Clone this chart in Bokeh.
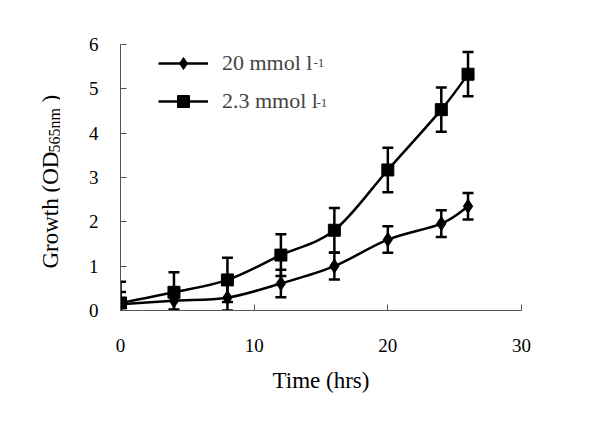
import numpy as np
from bokeh.plotting import figure
from bokeh.layouts import row
from bokeh.models import (ColumnDataSource, Whisker, TeeHead, Legend, LegendItem,
                          FixedTicker, Label, Range1d)
from bokeh.core.properties import value
from bokeh.embed import file_html
from bokeh.resources import INLINE

# ---- data ----
time_hrs = [0, 4, 8, 12, 16, 20, 24, 26]
growth_20 = [0.14, 0.22, 0.29, 0.61, 1.00, 1.60, 1.96, 2.35]
err_20 = [0.28, 0.20, 0.29, 0.31, 0.30, 0.30, 0.30, 0.30]
growth_23 = [0.17, 0.41, 0.69, 1.25, 1.81, 3.17, 4.53, 5.33]
err_23 = [0.48, 0.45, 0.50, 0.47, 0.50, 0.50, 0.50, 0.50]
x_ticks = [0, 10, 20, 30]
y_ticks = [0, 1, 2, 3, 4, 5, 6]
series_labels = ["20 mmol l", "2.3 mmol l"]
ylabel_parts = ["Growth (OD", "565nm", ")"]

FONT = "Liberation Serif"
AXIS_COLOR = "#555555"
H = 409


def bezier_source(x, y):
    """Control points for a smoothed (Excel-like) curve through the data."""
    x = list(x)
    y = list(y)
    n = len(x)
    d = dict(x0=[], y0=[], x1=[], y1=[], cx0=[], cy0=[], cx1=[], cy1=[])
    for i in range(n - 1):
        im = i - 1 if i > 0 else i
        ip = i + 2 if i + 2 < n else i + 1
        d["x0"].append(x[i]); d["y0"].append(y[i])
        d["x1"].append(x[i + 1]); d["y1"].append(y[i + 1])
        d["cx0"].append(x[i] + (x[i + 1] - x[im]) / 6.0)
        d["cy0"].append(y[i] + (y[i + 1] - y[im]) / 6.0)
        d["cx1"].append(x[i + 1] - (x[ip] - x[i]) / 6.0)
        d["cy1"].append(y[i + 1] - (y[ip] - y[i]) / 6.0)
    return ColumnDataSource(d)


p = figure(width=540, height=H, output_backend="svg", toolbar_location=None,
           x_range=Range1d(0, 30), y_range=Range1d(0, 6),
           min_border_left=60, min_border_right=79, min_border_top=44,
           min_border_bottom=99)
p.outline_line_color = None
p.grid.visible = False

# axes
p.xaxis.ticker = FixedTicker(ticks=x_ticks)
p.yaxis.ticker = FixedTicker(ticks=y_ticks)
p.xaxis.minor_tick_line_color = None
p.yaxis.minor_tick_line_color = None
for ax in (p.xaxis, p.yaxis):
    ax.axis_line_color = AXIS_COLOR
    ax.major_tick_line_color = AXIS_COLOR
    ax.major_tick_in = 6
    ax.major_tick_out = 0
    ax.major_label_text_font = FONT
    ax.major_label_text_font_size = "19px"
    ax.major_label_text_color = "black"
p.yaxis.major_label_standoff = 22
p.xaxis.major_label_standoff = 28
p.xaxis.axis_label = "Time (hrs)"
p.xaxis.axis_label_text_font = FONT
p.xaxis.axis_label_text_font_style = "normal"
p.xaxis.axis_label_text_font_size = "23px"
p.xaxis.axis_label_text_color = "black"
p.xaxis.axis_label_standoff = 13

# error bars
for vals, errs in ((growth_20, err_20), (growth_23, err_23)):
    src = ColumnDataSource(dict(
        x=time_hrs,
        upper=[v + e for v, e in zip(vals, errs)],
        lower=[v - e for v, e in zip(vals, errs)]))
    w = Whisker(base="x", upper="upper", lower="lower", source=src,
                line_color="black", line_width=2.5,
                upper_head=TeeHead(size=11, line_width=2.5, line_color="black"),
                lower_head=TeeHead(size=11, line_width=2.5, line_color="black"))
    p.add_layout(w)

# smoothed lines
bz20 = p.bezier(x0="x0", y0="y0", x1="x1", y1="y1", cx0="cx0", cy0="cy0",
                cx1="cx1", cy1="cy1", source=bezier_source(time_hrs, growth_20),
                line_color="black", line_width=2.5)
bz23 = p.bezier(x0="x0", y0="y0", x1="x1", y1="y1", cx0="cx0", cy0="cy0",
                cx1="cx1", cy1="cy1", source=bezier_source(time_hrs, growth_23),
                line_color="black", line_width=2.5)

# markers
sc20 = p.scatter(time_hrs, growth_20, marker="diamond", size=14,
                 fill_color="black", line_color="black")
sc23 = p.scatter(time_hrs, growth_23, marker="square", size=12,
                 fill_color="black", line_color="black")

legend = Legend(items=[LegendItem(label=series_labels[0], renderers=[bz20, sc20]),
                       LegendItem(label=series_labels[1], renderers=[bz23, sc23])],
                location=(38, 194), glyph_width=50, glyph_height=30,
                label_height=30, spacing=8, padding=0, margin=0,
                label_standoff=14, label_text_font=FONT,
                label_text_font_size="22px", border_line_alpha=0,
                background_fill_alpha=0)
p.add_layout(legend)

# superscripts "-1" for the legend units
for xoff, yoff in ((193, -18), (196, -58)):
    p.add_layout(Label(x=0, y=6, x_offset=xoff, y_offset=yoff, text="-1",
                       text_font=FONT, text_font_size="13px",
                       text_baseline="alphabetic"))

# y axis label (with subscript) in a narrow side panel that shares the
# main plot's vertical range, so its frame lines up with the plot frame
lab = figure(width=60, height=H, output_backend="svg", toolbar_location=None,
             x_range=Range1d(0, 60), y_range=p.y_range,
             x_axis_location=None, y_axis_location=None,
             min_border_left=0, min_border_right=0, min_border_top=44,
             min_border_bottom=99)
lab.title.visible = False
lab.outline_line_color = None
lab.grid.visible = False
lab_src = ColumnDataSource(dict(
    x=[50, 54, 50],
    y=[0.947, 3.564, 4.692],
    text=ylabel_parts,
    size=["23px", "16px", "23px"]))
lab.text(x="x", y="y", text="text", source=lab_src, angle=np.pi / 2,
         text_font=value(FONT), text_font_size="size",
         text_align="left", text_baseline="alphabetic", text_color="black")

layout = row(lab, p, spacing=0)
open("out.html", "w").write(file_html(layout, INLINE))
